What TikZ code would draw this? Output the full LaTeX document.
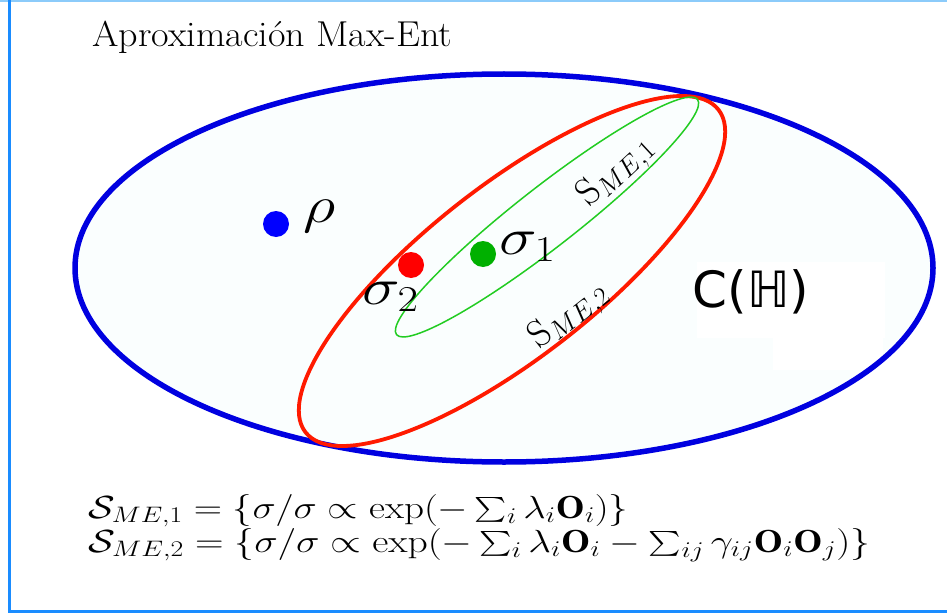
\RequirePackage{fix-cm}
\documentclass[tikz,border=0pt]{standalone}
\usepackage{exscale}
\usepackage{graphicx}
\usepackage{fontspec}
\newfontfamily\dejavu{DejaVu Sans}
\definecolor{framecol}{HTML}{1A8CFF}
\definecolor{toplinecol}{HTML}{8CCBFA}
\definecolor{setblue}{HTML}{0000E0}
\definecolor{setred}{HTML}{FF1A00}
\definecolor{setgreen}{HTML}{22CC22}
\definecolor{dotgreen}{HTML}{00B000}
\definecolor{insidefill}{HTML}{FAFEFE}
\tikzset{
  dotmark/.style={circle,inner sep=0pt,minimum size=26pt},
  biglabel/.style={inner sep=0pt,xscale=1.22,font=\fontsize{52}{62}\selectfont},
  setlabel/.style={inner sep=0pt,font=\fontsize{38}{44}\selectfont},
  formula/.style={anchor=base west,inner sep=0pt,font=\fontsize{32}{38}\selectfont},
}
\begin{document}
\begin{tikzpicture}[x=1pt,y=-1pt]
\useasboundingbox (0,0) rectangle (947,615);
\fill[white] (0,0) rectangle (947,615);
% frame
\draw[toplinecol,line width=2pt] (0,1) -- (947,1);
\draw[framecol,line width=3pt] (9.5,0) -- (9.5,611.5) -- (947,611.5);
% title
\node[anchor=base west,inner sep=0pt,font=\fontsize{36}{43}\selectfont] (title) at (92,47)
  {\resizebox{360pt}{\height}{Aproximación Max-Ent}};
% big set: fill, faint white patches, then outline
\fill[insidefill] (504,268) ellipse (429 and 194);
\begin{scope}
  \clip (504,268) ellipse (427 and 192);
  \fill[white] (697,262) rectangle (885,338);
  \fill[white] (773,338) rectangle (883,370);
\end{scope}
\draw[setblue,line width=5.5pt] (504,268) ellipse (429 and 194);
% ME,2
\draw[setred,line width=3.8pt,rotate around={38:(512,271)}] (512,271) ellipse (262 and 86);
% ME,1
\draw[setgreen,line width=1.5pt,rotate around={38:(547,217)}] (547,217) ellipse (191 and 30);
% dots
\node[dotmark,fill=blue] (rho) at (276,224) {};
\node[dotmark,fill=red] (s2) at (411,265) {};
\node[dotmark,fill=dotgreen] (s1) at (483,254) {};
% labels
\node[biglabel,anchor=base west] (rholab) at (303,222) {$\rho$};
\node[biglabel,anchor=base west] (s1lab) at (499,254) {$\sigma_1$};
\node[biglabel,anchor=base west] (s2lab) at (362,304) {$\sigma_2$};
\node[setlabel,rotate=43] (me1) at (616,172) {$\mathrm{S}_{ME,1}$};
\node[setlabel,rotate=38] (me2) at (569,316) {$\mathrm{S}_{ME,2}$};
\node[inner sep=0pt,font=\dejavu\fontsize{50}{60}\selectfont] (ch) at (751,292) {C(ℍ)};
% formulas
\node[formula] (f1) at (88,518)
  {\resizebox{540pt}{\height}{$\mathcal{S}_{ME,1}=\{\sigma/\sigma\propto\exp(-\sum_i\lambda_i\mathbf{O}_i)\}$}};
\node[formula] (f2) at (88,552)
  {\resizebox{782pt}{\height}{$\mathcal{S}_{ME,2}=\{\sigma/\sigma\propto\exp(-\sum_i\lambda_i\mathbf{O}_i-\sum_{ij}\gamma_{ij}\mathbf{O}_i\mathbf{O}_j)\}$}};
\end{tikzpicture}
\end{document}
